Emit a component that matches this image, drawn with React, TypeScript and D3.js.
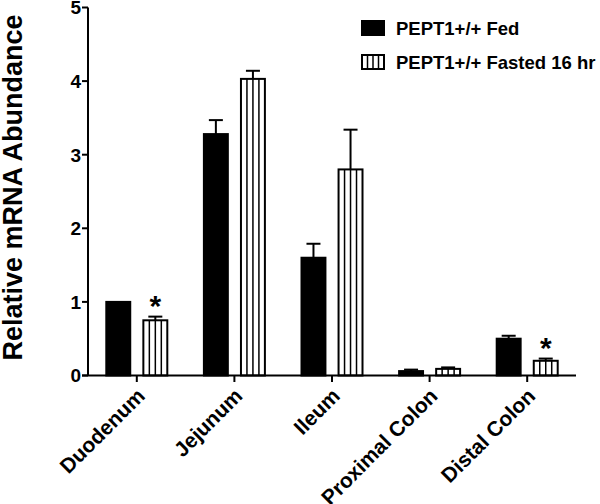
import React from "react";
import * as d3 from "d3";

const categories = ["Duodenum", "Jejunum", "Ileum", "Proximal Colon", "Distal Colon"];
const seriesNames = ["PEPT1+/+ Fed", "PEPT1+/+ Fasted 16 hr"];
const fedValues = [1.0, 3.28, 1.6, 0.06, 0.5];
const fedErrors = [0.0, 0.19, 0.19, 0.02, 0.04];
const fastedValues = [0.75, 4.03, 2.8, 0.09, 0.2];
const fastedErrors = [0.05, 0.11, 0.54, 0.02, 0.03];
const significant = [true, false, false, false, true];
const yTicks = [0, 1, 2, 3, 4, 5];

const W = 600;
const H = 504;
const FONT = "'Liberation Sans', Arial, Helvetica, sans-serif";

export default function App() {
  const x = d3.scaleBand<string>().domain(categories).range([88, 576]).padding(0);
  const y = d3.scaleLinear().domain([0, 5]).range([375.5, 7.5]);
  const sub = d3
    .scaleBand<number>()
    .domain([0, 1])
    .range([-31.5, 31.5])
    .paddingInner(0.3)
    .paddingOuter(0);
  const bw = sub.bandwidth();

  const series = [
    { values: fedValues, errors: fedErrors, striped: false },
    { values: fastedValues, errors: fastedErrors, striped: true },
  ];

  const stripes = (x0: number, w: number, y0: number, y1: number, key: string) => {
    const n = 4;
    return d3.range(1, n).map((i) => (
      <line
        key={key + i}
        x1={x0 + (w * i) / n}
        x2={x0 + (w * i) / n}
        y1={y0}
        y2={y1}
        stroke="#000"
        strokeWidth={1.5}
      />
    ));
  };

  return (
    <svg width={W} height={H} style={{ position: "absolute", left: 0, top: 0, background: "#fff" }}>
      <rect width={W} height={H} fill="#fff" />
      {categories.map((c, ci) => {
        const cx = (x(c) as number) + x.bandwidth() / 2;
        return (
          <g key={c}>
            {series.map((s, si) => {
              const bx = cx + (sub(si) as number);
              const v = s.values[ci];
              const e = s.errors[ci];
              const top = y(v);
              const bot = y(0);
              const mid = bx + bw / 2;
              return (
                <g key={si}>
                  {e > 0 && (
                    <g>
                      <line x1={mid} x2={mid} y1={top} y2={y(v + e)} stroke="#000" strokeWidth={2} />
                      <line x1={mid - 7} x2={mid + 7} y1={y(v + e)} y2={y(v + e)} stroke="#000" strokeWidth={2} />
                    </g>
                  )}
                  <rect
                    x={bx + 1}
                    y={top}
                    width={bw - 2}
                    height={bot - top}
                    fill={s.striped ? "#fff" : "#000"}
                    stroke="#000"
                    strokeWidth={2}
                  />
                  {s.striped && stripes(bx + 1, bw - 2, top, bot, c)}
                </g>
              );
            })}
            {significant[ci] && (
              <text
                x={cx + (sub(1) as number) + bw / 2}
                y={y(fastedValues[ci] + fastedErrors[ci]) - 1}
                textAnchor="middle"
                fontFamily={FONT}
                fontWeight="bold"
                fontSize={30}
              >
                *
              </text>
            )}
            <line x1={cx} x2={cx} y1={375.5} y2={382} stroke="#000" strokeWidth={2} />
            <text
              transform={`translate(${cx + 4},${392}) rotate(-45)`}
              textAnchor="end"
              dominantBaseline="central"
              fontFamily={FONT}
              fontWeight="bold"
              fontSize={21}
            >
              {c}
            </text>
          </g>
        );
      })}

      <line x1={88} x2={88} y1={y(5)} y2={y(0)} stroke="#000" strokeWidth={2} />
      <line x1={82} x2={576} y1={y(0)} y2={y(0)} stroke="#000" strokeWidth={2} />
      {yTicks.map((t) => (
        <g key={t}>
          <line x1={82} x2={88} y1={y(t)} y2={y(t)} stroke="#000" strokeWidth={2} />
          <text
            x={81}
            y={y(t)}
            dy="0.36em"
            textAnchor="end"
            fontFamily={FONT}
            fontWeight="bold"
            fontSize={19}
          >
            {t}
          </text>
        </g>
      ))}
      <text
        transform={`translate(22,${(15 + 360) / 2}) rotate(-90)`}
        textAnchor="middle"
        fontFamily={FONT}
        fontWeight="bold"
        fontSize={27}
      >
        Relative mRNA Abundance
      </text>

      {seriesNames.map((name, i) => {
        const ly = 20 + i * 34;
        return (
          <g key={name}>
            <rect
              x={362}
              y={ly + 1}
              width={22}
              height={14}
              fill={i === 0 ? "#000" : "#fff"}
              stroke="#000"
              strokeWidth={2}
            />
            {i === 1 && stripes(362, 22, ly + 1, ly + 15, "lg")}
            <text x={396} y={ly + 14.5} fontFamily={FONT} fontWeight="bold" fontSize={18.5}>
              {name}
            </text>
          </g>
        );
      })}
    </svg>
  );
}
